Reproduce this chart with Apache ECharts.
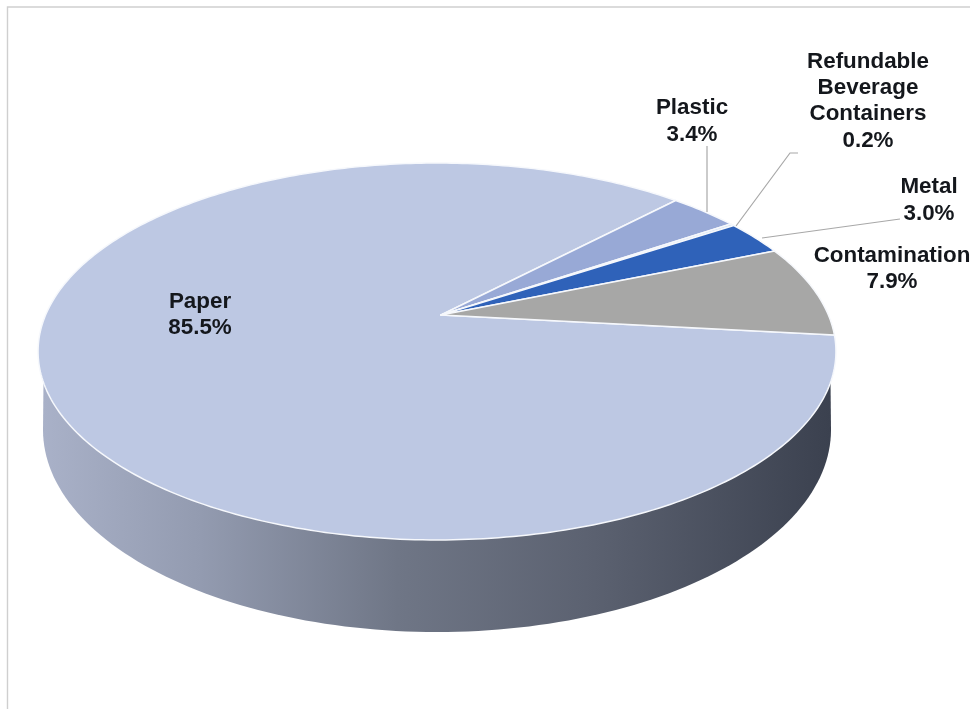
<!DOCTYPE html>
<html><head><meta charset="utf-8">
<style>html,body{margin:0;padding:0;background:#fff}#c{width:970px;height:709px}</style>
<script src="https://cdn.jsdelivr.net/npm/echarts@6/dist/echarts.min.js"></script>
</head><body><div id="c"></div>
<script>
const categories = ['Paper', 'Plastic', 'Refundable\nBeverage\nContainers', 'Metal', 'Contamination'];
const shareValues = [85.5, 3.4, 0.2, 3.0, 7.9];
const sliceColors = ['#bdc8e3', '#98a9d6', '#cfe0f2', '#2f62b9', '#a7a7a6'];
// label anchor (centre x, first-line centre y) and optional leader polyline, in axis units
const labelAnchors = [[200, 301.5], [692, 108], [868, 61.5], [929, 187], [892, 255.5]];
const leaderLines = [null, [[707, 146], [707, 212]], [[798, 153], [790, 153], [736, 226]], [[900, 219], [762, 238]], null];

// Perspective disc geometry
const EL = {cx: 437, apexX: 441, apexY: 315, a: 391.4, b: 181.4, k: 0.1936};
const LOWER = {cx: 437, cy: 430, rx: 394, ry: 202};
const START_DEG = 6.2;
const total = shareValues.reduce((s, v) => s + v, 0);
const cumulative = shareValues.map((_, i) => shareValues.slice(0, i).reduce((s, v) => s + v, 0));

function rimPoint(deg) {
  const t = deg * Math.PI / 180, X = Math.cos(t), Y = Math.sin(t), w = 1 - EL.k * Y;
  return [EL.cx + EL.a * X / w, EL.apexY + EL.b * Y / w];
}

function renderSlice(params, api) {
  const i = params.dataIndex, v = api.value(1);
  const from = START_DEG + cumulative[i] / total * 360;
  const to = from + v / total * 360;
  const steps = Math.max(2, Math.ceil(v * 4));
  const pts = [api.coord([EL.apexX, EL.apexY])];
  for (let s = 0; s <= steps; s++) pts.push(api.coord(rimPoint(from + (to - from) * s / steps)));
  const children = [{
    type: 'polygon', shape: {points: pts},
    style: {fill: sliceColors[i], stroke: '#f6f8fc', lineWidth: 1.5, lineJoin: 'round'}
  }];
  if (leaderLines[i]) children.push({
    type: 'polyline', shape: {points: leaderLines[i].map(p => api.coord(p))},
    style: {fill: null, stroke: '#a8a8a8', lineWidth: 1.2}
  });
  const a = api.coord(labelAnchors[i]);
  children.push({
    type: 'text', x: a[0], y: a[1] - 13,
    style: {
      text: categories[i] + '\n' + v.toFixed(1) + '%',
      fontFamily: '"Liberation Sans", Arial, sans-serif', fontWeight: 'bold', fontSize: 22.4,
      lineHeight: 26.3, fill: '#14171c', align: 'center', verticalAlign: 'top'
    }
  });
  return {type: 'group', children};
}

function renderSide(params, api) {
  const pts = [];
  const y0 = 380;
  pts.push(api.coord([LOWER.cx + LOWER.rx - 0.5, y0]));
  for (let d = 0; d <= 180; d += 1.5) {
    const t = d * Math.PI / 180;
    pts.push(api.coord([LOWER.cx + LOWER.rx * Math.cos(t), LOWER.cy + LOWER.ry * Math.sin(t)]));
  }
  pts.push(api.coord([LOWER.cx - LOWER.rx + 0.5, y0]));
  return {
    type: 'polygon', shape: {points: pts},
    style: {fill: new echarts.graphic.LinearGradient(0, 0, 1, 0, [
      {offset: 0, color: '#a9b1c8'},
      {offset: 0.2, color: '#939bb0'},
      {offset: 0.45, color: '#6f7686'},
      {offset: 0.7, color: '#5b6170'},
      {offset: 1, color: '#3b414f'}
    ])}
  };
}

const chart = echarts.init(document.getElementById('c'), null, {renderer: 'canvas'});
chart.setOption({
  animation: false,
  backgroundColor: '#fff',
  grid: {left: 0, right: 0, top: 0, bottom: 0},
  xAxis: {type: 'value', min: 0, max: 970, show: false},
  yAxis: {type: 'value', min: 0, max: 709, inverse: true, show: false},
  graphic: [
    {type: 'polyline', silent: true, shape: {points: [[7.5, 709], [7.5, 7], [970, 7]]},
     style: {fill: null, stroke: '#cfcfcf', lineWidth: 1.4}}
  ],
  series: [
    {type: 'custom', coordinateSystem: 'cartesian2d', data: [[0, 1]], renderItem: renderSide, silent: true, clip: false, z: 2},
    {type: 'custom', coordinateSystem: 'cartesian2d', data: categories.map((c, i) => [i, shareValues[i]]),
     encode: {x: 0, y: 1}, renderItem: renderSlice, silent: true, clip: false, z: 3}
  ]
});
</script></body></html>
